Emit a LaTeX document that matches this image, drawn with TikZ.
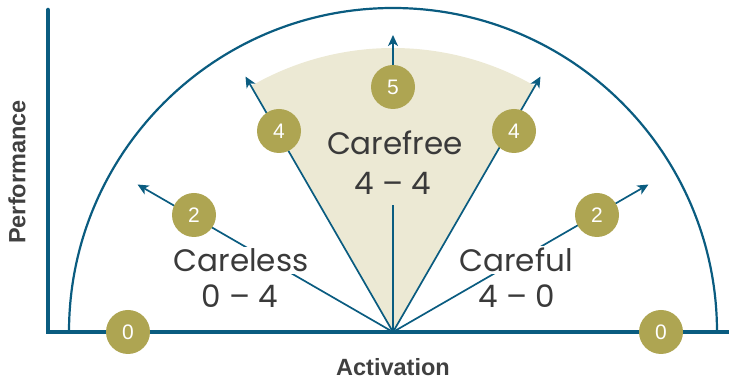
\documentclass[tikz,border=0pt]{standalone}
\usepackage{fontspec}
\setmainfont{Liberation Sans}
\newfontfamily\handfont{Poppins}
\usetikzlibrary{arrows.meta}
\definecolor{myteal}{RGB}{10,92,128}
\definecolor{myolive}{RGB}{174,165,82}
\definecolor{mybeige}{RGB}{236,233,212}
\definecolor{hgrey}{RGB}{58,58,58}
\definecolor{lgrey}{RGB}{64,64,64}
\begin{document}
\begin{tikzpicture}[x=1pt,y=1pt,
  axis/.style={line width=4.5pt, color=myteal},
  ray/.style={line width=1.7pt, color=myteal},
  arr/.style={ray, -{Stealth[length=11pt,width=10pt,inset=3pt]}},
  badge/.style={circle, fill=myolive, text=white, minimum size=44pt, inner sep=0pt, font=\fontsize{21}{21}\selectfont},
  hand/.style={font=\handfont\fontsize{31}{31}\selectfont, text=hgrey, inner sep=2pt, anchor=base},
  lbl/.style={font=\bfseries\fontsize{23.5}{23.5}\selectfont, text=lgrey}]
\useasboundingbox (0,0) rectangle (729,380);
\coordinate (O) at (393,48);
% beige sector
\fill[mybeige] (O) -- ++(60:284) arc[start angle=60,end angle=120,radius=284] -- cycle;
% axes
\coordinate (ytop) at (48,370);
\coordinate (corner) at (48,48);
\coordinate (xend) at (735,48);
\draw[axis, line cap=round] (ytop) -- (corner) -- (xend);
% arc
\draw[line width=2.2pt, myteal] (O) ++(180:324) arc[start angle=180,end angle=0,radius=324];
% tips
\path (O) ++(150:295) coordinate (t2l);
\path (O) ++(120:295) coordinate (t4l);
\path (O) ++(90:297) coordinate (t5);
\path (O) ++(60:295) coordinate (t4r);
\path (O) ++(30:295) coordinate (t2r);
% badge positions
\coordinate (p0l) at (128,48);
\coordinate (p2l) at (194,165);
\coordinate (p4l) at (279,249);
\coordinate (p5) at (393,293);
\coordinate (p4r) at (514,249);
\coordinate (p2r) at (597,165);
\coordinate (p0r) at (661,48);
\coordinate (cfb) at (393,175);
% rays
\draw[arr] (O) -- (t2l);
\draw[arr] (O) -- (t4l);
\draw[ray] (O) -- (cfb);
\draw[arr] (p5) -- (t5);
\draw[arr] (O) -- (t4r);
\draw[arr] (O) -- (t2r);
% texts
\node[hand, fill=white] (careless) at (241,108) {Careless};
\node[hand] (carelessS) at (240,72) {0 – 4};
\node[hand, fill=white] (careful) at (516,108) {Careful};
\node[hand] (carefulS) at (517,72) {4 – 0};
\node[hand] (carefree) at (395,225) {Carefree};
\node[hand] (carefreeS) at (393,185) {4 – 4};
% badges
\node[badge] (c0l) at (p0l) {0};
\node[badge] (c2l) at (p2l) {2};
\node[badge] (c4l) at (p4l) {4};
\node[badge] (c5) at (p5) {5};
\node[badge] (c4r) at (p4r) {4};
\node[badge] (c2r) at (p2r) {2};
\node[badge] (c0r) at (p0r) {0};
% axis labels
\node[lbl] (act) at (393,13) {Activation};
\node[lbl, rotate=90] (perf) at (17,208) {Performance};
\end{tikzpicture}
\end{document}
